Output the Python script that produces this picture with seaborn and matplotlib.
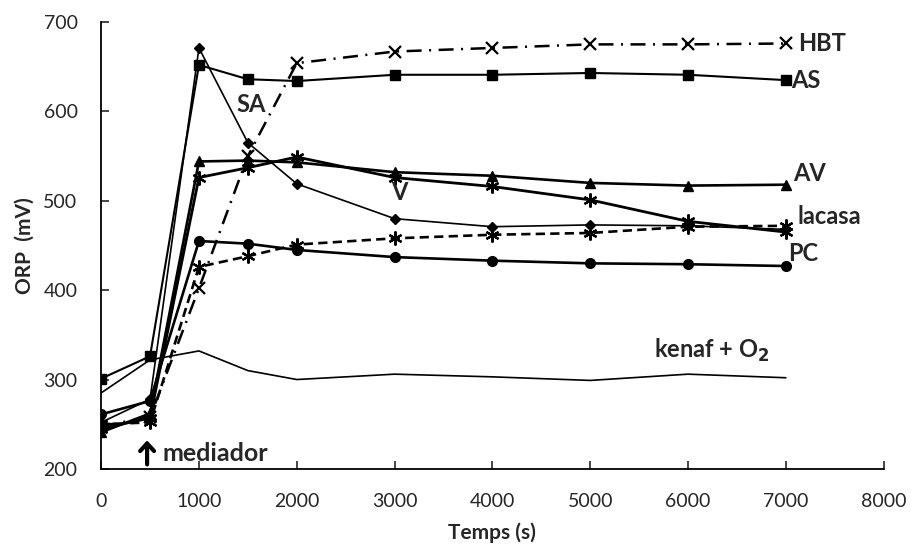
import matplotlib
matplotlib.use("Agg")
import matplotlib.pyplot as plt
import seaborn as sns
import pandas as pd

# ---- data ----
time_s = [0, 500, 1000, 1500, 2000, 3000, 4000, 5000, 6000, 7000]
orp_HBT = [248, 258, 402, 550, 654, 667, 671, 675, 675, 676]
orp_AS = [301, 326, 652, 636, 634, 641, 641, 643, 641, 635]
orp_SA = [252, 278, 671, 565, 519, 480, 471, 473, 472, 468]
orp_AV = [241, 262, 544, 545, 543, 532, 528, 520, 517, 518]
orp_V = [245, 257, 526, 537, 549, 526, 516, 501, 477, 465]
orp_lacasa = [250, 252, 426, 438, 451, 458, 462, 464, 471, 472]
orp_PC = [261, 276, 455, 452, 445, 437, 433, 430, 429, 427]
orp_kenaf = [285, 322, 332, 310, 300, 306, 303, 299, 306, 302]

x_ticks = [0, 1000, 2000, 3000, 4000, 5000, 6000, 7000, 8000]
y_ticks = [200, 300, 400, 500, 600, 700]

sns.set_style("ticks")
plt.rcParams['font.family'] = ['Lato', 'DejaVu Sans']

fig = plt.figure(figsize=(9.11, 5.51), dpi=100)
ax = fig.add_axes([0.111, 0.149, 0.859, 0.811])

asterisk = (6, 2, 0)
series = [
    # name, values, marker, ms, lw, dashes, mew
    ("kenaf", orp_kenaf, None, 0, 1.2, None, 1),
    ("PC", orp_PC, "o", 7, 1.9, None, 1),
    ("lacasa", orp_lacasa, asterisk, 10, 1.9, (3.5, 2), 1.6),
    ("V", orp_V, asterisk, 10, 2.0, None, 1.6),
    ("AV", orp_AV, "^", 7.5, 1.9, None, 1),
    ("SA", orp_SA, "D", 5.5, 1.2, None, 1),
    ("AS", orp_AS, "s", 6.5, 1.5, None, 1),
    ("HBT", orp_HBT, "x", 8, 1.8, (6, 3, 0.8, 3), 1.6),
]

for name, vals, mk, ms, lw, dsh, mew in series:
    df = pd.DataFrame({"t": time_s, "orp": vals})
    kw = dict(color="black", linewidth=lw)
    if mk is not None:
        kw.update(marker=mk, markersize=ms, markerfacecolor="black",
                  markeredgecolor="black", markeredgewidth=mew)
    sns.lineplot(data=df, x="t", y="orp", ax=ax, sort=False, **kw)
    line = ax.lines[-1]
    if dsh is not None:
        line.set_dashes(dsh)

ax.set_xlim(0, 8000)
ax.set_ylim(200, 700)
ax.set_xticks(x_ticks)
ax.set_yticks(y_ticks)
ax.tick_params(direction="in", length=6, width=1.2, labelsize=14, pad=17)
for s in ["left", "bottom"]:
    ax.spines[s].set_linewidth(1.3)
    ax.spines[s].set_color("black")
sns.despine(ax=ax)

ax.set_xlabel("Temps (s)", fontsize=15, fontweight="bold", labelpad=9)
ax.set_ylabel("ORP  (mV)", fontsize=15, fontweight="bold", labelpad=6)

lab = dict(fontsize=17, fontweight="bold", va="center", ha="left")
ax.text(7130, 676, "HBT", **lab)
ax.text(7050, 635, "AS", **lab)
ax.text(7070, 530, "AV", **lab)
ax.text(7120, 482, "lacasa", **lab)
ax.text(7020, 441, "PC", **lab)
ax.text(1380, 608, "SA", **lab)
ax.text(2960, 509, "V", **lab)
ax.text(5650, 333, "kenaf + O$_\\mathbf{2}$", **lab)
ax.annotate("", xy=(470, 232), xytext=(470, 205),
            arrowprops=dict(arrowstyle="->,head_length=0.55,head_width=0.5",
                            lw=3.0, color="black", shrinkA=0, shrinkB=0))
ax.text(630, 217, "mediador", fontsize=18, fontweight="bold", va="center", ha="left")

fig.savefig("out.png", dpi=100)
